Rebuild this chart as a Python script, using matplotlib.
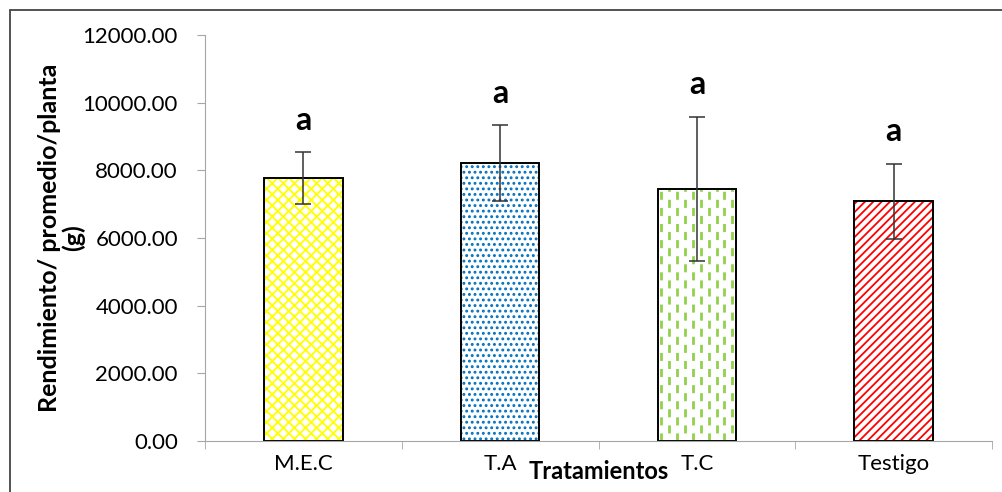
import numpy as np
import matplotlib.pyplot as plt
from matplotlib.patches import Rectangle

# Datos
tratamientos = ['M.E.C', 'T.A', 'T.C', 'Testigo']
rendimiento = [7770, 8210, 7450, 7090]
error = [760, 1120, 2140, 1110]
letras = ['a', 'a', 'a', 'a']

relleno = ['#FFFF00', '#0070C0', '#92D050', '#FF0000']
tramas = ['xxx', '...', None, '////']

plt.rcParams['font.family'] = ['Lato', 'DejaVu Sans']
plt.rcParams['hatch.linewidth'] = 1.3

fig = plt.figure(figsize=(10.02, 4.92), dpi=100)
ax = fig.add_axes([205 / 1002, 1 - 441 / 492, (992 - 205) / 1002, (441 - 35) / 492])

x = np.arange(len(tratamientos))
ancho = 0.4

# relleno con trama (color de trama = edgecolor)
for i in range(len(x)):
    if tramas[i] is not None:
        ax.bar(x[i], rendimiento[i], ancho, color='white', edgecolor=relleno[i],
               hatch=tramas[i], linewidth=0, zorder=1)
    else:
        fondo = ax.bar(x[i], rendimiento[i], ancho, color='white', linewidth=0, zorder=1)[0]
        # guiones verticales alternados
        paso = ancho / 10
        xs = np.arange(x[i] - ancho / 2 + paso / 2, x[i] + ancho / 2, paso)
        for k, xv in enumerate(xs):
            ln = ax.plot([xv, xv], [0, rendimiento[i]], color=relleno[i], lw=2.0,
                         linestyle=(2.9 * (k % 2), (2.9, 2.9)), zorder=1.5)[0]
            ln.set_clip_path(fondo)

# contorno negro y barras de error
ax.bar(x, rendimiento, ancho, fill=False, edgecolor='black', linewidth=1.4, zorder=2)
ax.errorbar(x, rendimiento, yerr=error, fmt='none', ecolor='#333333',
            elinewidth=1.1, capsize=6, capthick=1.1, zorder=3)

for i in range(len(x)):
    ax.text(x[i], rendimiento[i] + error[i] + 950, letras[i], ha='center', va='center',
            fontsize=23, fontweight='bold')

ax.set_xlim(-0.5, len(x) - 0.5)
ax.set_ylim(0, 12000)
ax.set_yticks(np.arange(0, 12001, 2000))
ax.set_yticklabels([f'{v:.2f}' for v in np.arange(0, 12001, 2000)])
ax.set_xticks(x)
ax.set_xticklabels(tratamientos)
ax.set_xticks(np.arange(-0.5, len(x)), minor=True)
ax.tick_params(axis='x', which='major', length=0, pad=9, labelsize=16)
ax.tick_params(axis='x', which='minor', length=6, color='#A6A6A6', direction='out')
ax.tick_params(axis='y', length=6, color='#A6A6A6', labelsize=16, pad=13.5)

for s in ['top', 'right']:
    ax.spines[s].set_visible(False)
for s in ['left', 'bottom']:
    ax.spines[s].set_color('#A6A6A6')

ax.set_ylabel('Rendimiento/ promedio/planta\n(g)', fontsize=18, fontweight='bold',
              linespacing=1.0)
ax.yaxis.set_label_coords(-120 / 787, 0.5)
ax.set_xlabel('Tratamientos', fontsize=17, fontweight='bold')
ax.xaxis.set_label_coords(0.5, -19 / 406)

# marco del area del grafico (recortado a derecha y abajo)
fig.patches.append(Rectangle((10 / 1002, -0.2), 1.2, 1.2 - 10 / 492, transform=fig.transFigure,
                             fill=False, edgecolor='#444444', linewidth=1.3))

plt.savefig('out.png', dpi=100)
